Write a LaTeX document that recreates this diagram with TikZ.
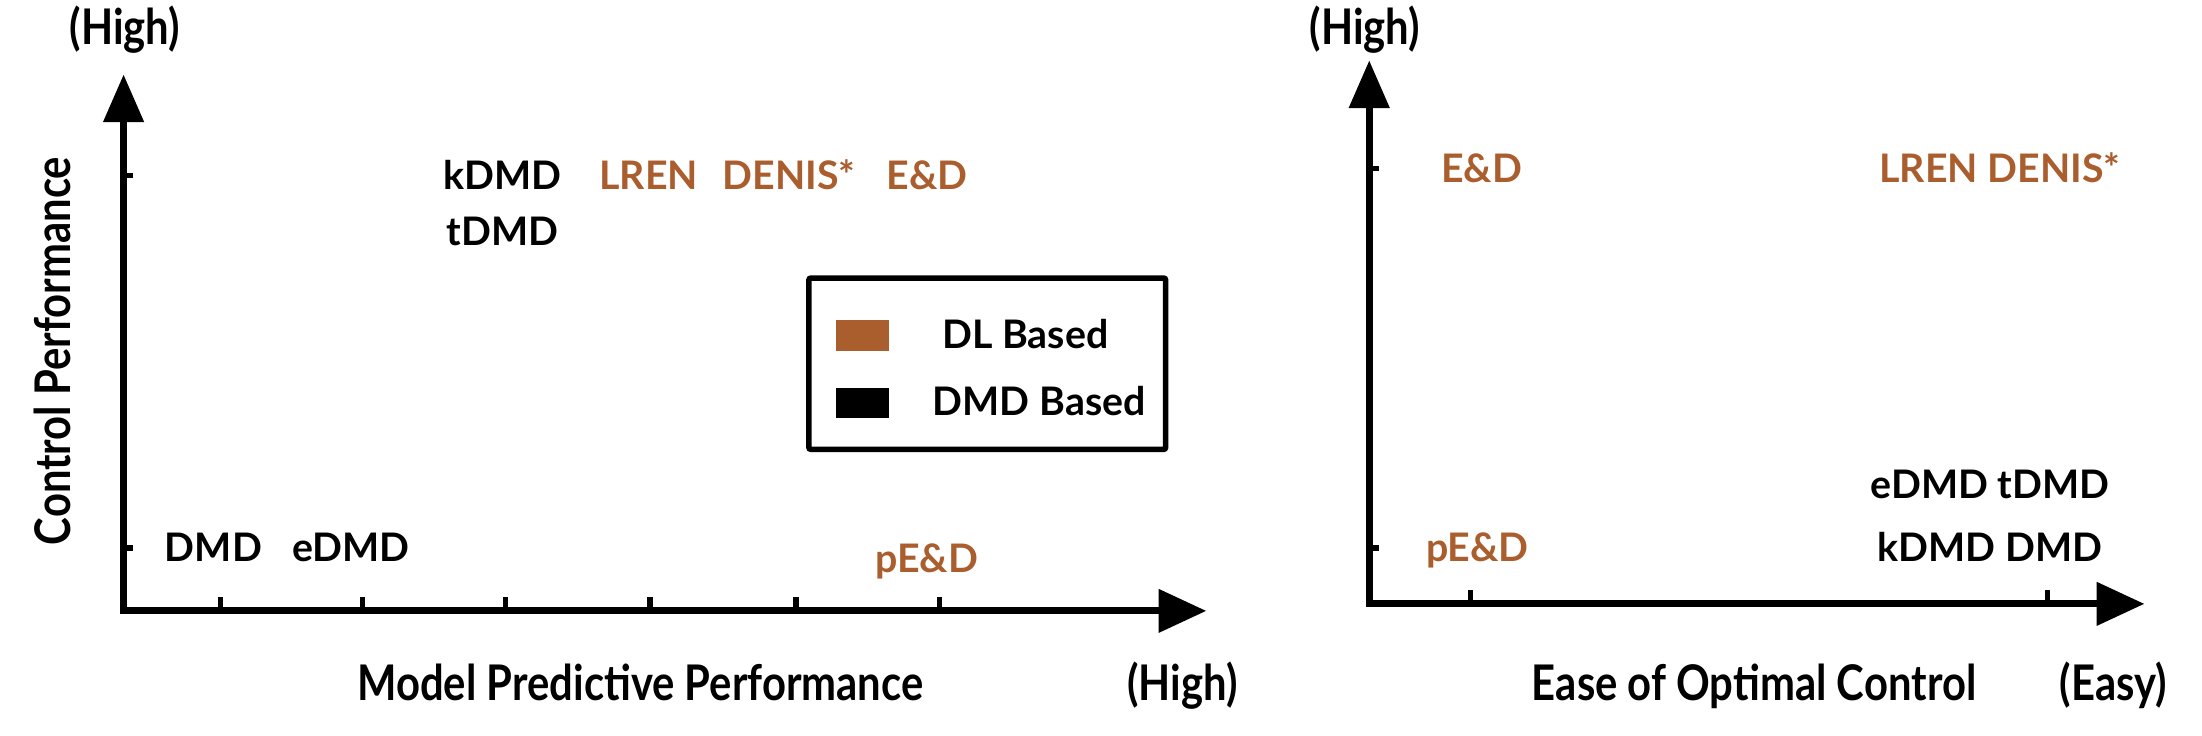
\documentclass[tikz,border=0pt]{standalone}
\usepackage{fontspec}
\setmainfont{Lato}
\usetikzlibrary{arrows.meta}
\definecolor{dlc}{RGB}{170,94,46}
\begin{document}
\begin{tikzpicture}[x=1pt,y=-1pt,
  axis/.style={line width=5pt,line join=miter,{Triangle[length=34pt,width=28pt]}-{Triangle[length=34pt,width=30pt]}},
  tickmark/.style={line width=4pt},
  lab/.style={font=\fontsize{28}{32}\selectfont\bfseries,inner sep=0pt,anchor=base},
  dl/.style={lab,text=dlc},
  dmd/.style={lab,text=black},
  axlab/.style={lab,font=\fontsize{35}{40}\selectfont\bfseries,xscale=0.85},
  vaxlab/.style={lab,font=\fontsize{35}{40}\selectfont\bfseries,anchor=center,rotate=90,xscale=0.85}]
\useasboundingbox (0,0) rectangle (1568,524);
% ---------- left plot ----------
\coordinate (O1) at (88,435);
\coordinate (Y1) at (88,53);
\coordinate (X1) at (859,435);
\draw[axis] (Y1) -- (O1) -- (X1);
\foreach \yy in {125,390} \draw[tickmark] (88,\yy) -- ++(7,0);
\foreach \xx in {157,258,360,463,567,669} \draw[tickmark] (\xx,435) -- ++(0,-10);
\node[axlab] (hL) at (89,32) {(High)};
\node[vaxlab] (cp) at (37,250) {Control Performance};
\node[axlab] (mpp) at (456,499) {Model Predictive Performance};
\node[axlab] (hLx) at (842,499) {(High)};
\node[dmd] (kL) at (358,135) {kDMD};
\node[dmd] (tL) at (358,175) {tDMD};
\node[dl] (lrL) at (462,135) {LREN};
\node[dl] (deL) at (562,135) {DENIS*};
\node[dl] (edL) at (660,135) {E\&D};
\node[dmd] (dL) at (152,400) {DMD};
\node[dmd] (eL) at (250,400) {eDMD};
\node[dl] (pL) at (660,408) {pE\&D};
% legend
\draw[line width=4pt,rounded corners=1.5pt] (576,198) rectangle (830,320);
\fill[dlc] (595,228) rectangle (633,250);
\fill[black] (595,276) rectangle (633,298);
\node[dmd] (lg1) at (730,248) {DL Based};
\node[dmd] (lg2) at (740,296) {DMD Based};
% ---------- right plot ----------
\coordinate (O2) at (975,430);
\coordinate (Y2) at (975,43);
\coordinate (X2) at (1527,430);
\draw[axis] (Y2) -- (O2) -- (X2);
\foreach \yy in {120,390} \draw[tickmark] (975,\yy) -- ++(7,0);
\foreach \xx in {1047,1458} \draw[tickmark] (\xx,430) -- ++(0,-10);
\node[axlab] (hR) at (972,32) {(High)};
\node[axlab] (eoc) at (1249,499) {Ease of Optimal Control};
\node[axlab] (easy) at (1505,499) {(Easy)};
\node[dl] (edR) at (1055,130) {E\&D};
\node[dl] (ldR) at (1424,130) {LREN DENIS*};
\node[dl] (pR) at (1052,400) {pE\&D};
\node[dmd] (etR) at (1417,355) {eDMD tDMD};
\node[dmd] (kdR) at (1417,400) {kDMD DMD};
\end{tikzpicture}
\end{document}
